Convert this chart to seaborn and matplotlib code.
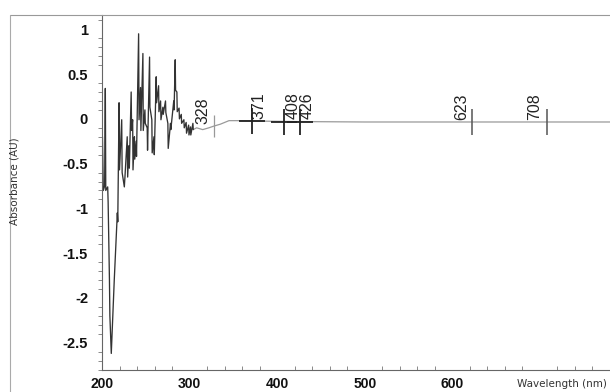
import matplotlib
matplotlib.use("Agg")
import matplotlib.pyplot as plt
from matplotlib.lines import Line2D
from matplotlib.ticker import MultipleLocator, FixedLocator
import seaborn as sns
import pandas as pd

# Absorbance spectrum trace (nm, AU)
wavelength = [
    200.5, 201.5, 203.0, 203.8, 204.3, 206.5, 207.0, 208.5, 209.0, 210.6,
    214.0, 217.5, 218.0, 219.5, 220.0, 222.5, 223.0, 225.5, 226.2, 228.8,
    229.3, 230.8, 231.2, 233.3, 233.8, 235.0, 235.4, 237.0, 237.4, 239.0,
    239.4, 241.8, 242.3, 244.0, 244.4, 246.7, 247.1, 249.0, 249.4, 251.6,
    252.0, 254.3, 254.7, 256.9, 257.3, 259.3, 259.7, 261.9, 262.3, 264.6,
    265.0, 266.9, 267.3, 269.5, 269.9, 272.5, 272.9, 275.2, 275.6, 278.2,
    278.6, 281.9, 282.3, 283.6, 284.0, 285.5, 285.9, 288.0, 288.4, 290.5,
    290.9, 293.5, 293.9, 296.1, 296.5, 298.9, 299.3, 301.0, 301.4, 303.8,
    304.2, 308.0, 315.0, 322.0, 328.0, 335.0, 345.0, 360.0, 380.0, 420.0,
    500.0, 600.0, 700.0, 790.0,
]
absorbance = [
    -0.20, -0.80, -0.75, 0.34, -0.80, -0.76, -0.93, -1.80, -2.20, -2.62,
    -1.80, -1.05, -1.15, 0.18, -0.57, -0.01, -0.60, -0.76, -0.65, -0.20,
    -0.65, -0.30, -0.55, 0.30, -0.13, -0.01, -0.57, -0.20, -0.45, -0.25,
    -0.42, 0.95, -0.01, 0.35, -0.13, 0.73, -0.13, 0.10, -0.05, -0.10,
    -0.35, 0.69, 0.13, -0.01, -0.38, -0.20, -0.40, 0.47, 0.18, 0.37,
    0.08, 0.20, -0.01, 0.13, 0.05, 0.20, 0.07, -0.05, -0.33, -0.05,
    -0.12, 0.20, 0.10, 0.66, 0.32, 0.30, 0.08, 0.12, 0.00, 0.05,
    -0.05, -0.01, -0.10, -0.04, -0.16, -0.07, -0.18, -0.09, -0.18, -0.05,
    -0.12, -0.10, -0.12, -0.10, -0.08, -0.06, -0.02, -0.02, -0.025, -0.03,
    -0.035, -0.035, -0.035, -0.035,
]

# Picked peaks
peak_nm = [328, 371, 408, 426, 623, 708]
peak_abs = [-0.08, -0.02, -0.03, -0.03, -0.035, -0.035]

x_ticks = [200, 300, 400, 500, 600, 700]
x_tick_labels = ["200", "300", "400", "500", "600", ""]
y_ticks = [1, 0.5, 0, -0.5, -1, -1.5, -2, -2.5]
y_tick_labels = ["1", "0.5", "0", "-0.5", "-1", "-1.5", "-2", "-2.5"]

sns.set_theme(style="white")
plt.rcParams["font.family"] = ["Liberation Sans", "DejaVu Sans"]

W, H = 610, 392
fig = plt.figure(figsize=(W / 100, H / 100), dpi=100)
ax = fig.add_axes([102 / W, 1 - 370 / H, 508 / W, 355 / H])

df = pd.DataFrame({"wl": wavelength, "ab": absorbance})
# noisy UV part drawn dark, the quiet visible part as a faint trace
uv = df[df["wl"] <= 304.2]
vis = df[df["wl"] >= 304.2]
sns.lineplot(data=vis, x="wl", y="ab", sort=False, estimator=None,
             color="#9a9a9a", linewidth=0.9, ax=ax)
sns.lineplot(data=uv, x="wl", y="ab", sort=False, estimator=None,
             color="#333333", linewidth=0.95, ax=ax)

# peak markers and labels
label_dx = {328: -11, 371: 7, 408: 9, 426: 7, 623: -11, 708: -12}
for nm, ab in zip(peak_nm, peak_abs):
    if nm in (371, 408, 426):
        ax.plot([nm], [ab], marker="+", ms=19, mew=1.3, color="#222")
    elif nm == 328:
        ax.plot([nm], [ab], marker="|", ms=16, mew=0.9, color="#999")
    else:
        ax.plot([nm], [ab], marker="|", ms=19, mew=1.1, color="#555")
    ax.annotate(str(nm), xy=(nm, ab), xytext=(label_dx[nm] * 0.72, 1.5),
                textcoords="offset points", rotation=90, ha="center",
                va="bottom", fontsize=11.5, color="#222")

ax.set_xlim(200, 780)
ax.set_ylim(-2.805, 1.16)

ax.xaxis.set_major_locator(FixedLocator(x_ticks))
ax.set_xticklabels(x_tick_labels)
ax.xaxis.set_minor_locator(MultipleLocator(20))
ax.yaxis.set_major_locator(FixedLocator(y_ticks))
ax.set_yticklabels(y_tick_labels)
ax.yaxis.set_minor_locator(MultipleLocator(0.1))

ax.tick_params(axis="x", which="major", direction="inout", length=7, width=0.8,
               color="#555", labelsize=10, pad=1.5, labelcolor="#111")
ax.tick_params(axis="x", which="minor", direction="in", length=3, width=0.6,
               color="#777", bottom=True)
ax.tick_params(axis="y", which="major", direction="out", length=6, width=0.8,
               color="#555", labelsize=10.5, pad=4, labelcolor="#111")
ax.tick_params(axis="y", which="minor", direction="out", length=3, width=0.6,
               color="#777", left=True)
for lab in ax.get_xticklabels() + ax.get_yticklabels():
    lab.set_fontweight("bold")

ax.set_xlabel("")
ax.set_ylabel("")
for side in ("top", "right"):
    ax.spines[side].set_visible(False)
ax.spines["left"].set_color("#666")
ax.spines["bottom"].set_color("#666")
ax.spines["left"].set_linewidth(0.8)
ax.spines["bottom"].set_linewidth(0.8)

# outer frame of the print-out
fig.add_artist(Line2D([10 / W, 1], [1 - 15 / H, 1 - 15 / H],
                      transform=fig.transFigure, color="#999", lw=0.8))
fig.add_artist(Line2D([10 / W, 10 / W], [0, 1 - 15 / H],
                      transform=fig.transFigure, color="#aaa", lw=0.8))

fig.text(15 / W, 1 - 181 / H, "Absorbance (AU)", rotation=90, ha="center",
         va="center", fontsize=7.5, color="#333", family="DejaVu Sans")
fig.text(607 / W, 1 - 384 / H, "Wavelength (nm)", ha="right", va="center",
         fontsize=7.5, color="#333", family="DejaVu Sans")

fig.savefig("out.png", dpi=100, facecolor="white")
